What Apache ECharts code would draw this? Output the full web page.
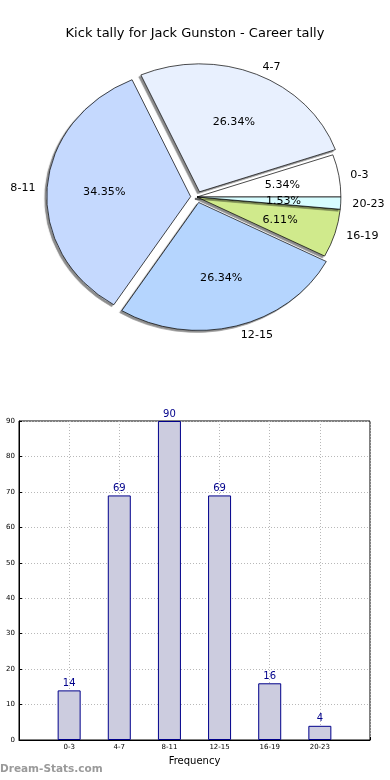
<!DOCTYPE html>
<html><head><meta charset="utf-8">
<script src="https://cdn.jsdelivr.net/npm/echarts@6/dist/echarts.min.js"></script>
<style>
html,body{margin:0;padding:0;background:#fff;overflow:hidden}
#wrap{position:relative;width:390px;height:780px}
#c{position:absolute;left:0;top:0;width:390px;height:780px}
#p{position:absolute;left:0;top:0;width:390px;height:400px;transform:scale(1.058,0.941);transform-origin:197px 197px}
</style>
</head><body><div id="wrap"><div id="c"></div><div id="p"></div></div>
<script>
const titleText = 'Kick tally for Jack Gunston - Career tally';
const categories = ['0-3', '4-7', '8-11', '12-15', '16-19', '20-23'];
const values = [14, 69, 90, 69, 16, 4];
const sliceColors = ['#ffffff', '#e8f0fe', '#c5d9fe', '#b5d5fe', '#d0ea8c', '#d7fdff'];
const exploded = ['4-7', '8-11', '12-15'];
const yTicks = [0, 10, 20, 30, 40, 50, 60, 70, 80, 90];
const xAxisName = 'Frequency';
const watermark = 'Dream-Stats.com';

const FONT = 'DejaVu Sans';
const CX = 197, CY = 197, R = 136;
const total = values.reduce((a, b) => a + b, 0);

const pieData = categories.map((c, i) => ({
  name: c, value: values[i], selected: exploded.includes(c),
  itemStyle: { color: sliceColors[i] }
}));
const pctData = categories.map((c, i) => ({
  name: c, value: values[i], selected: exploded.includes(c)
}));
const barCats = [''].concat(categories, ['']);
const barVals = [null].concat(values, [null]);

const chart = echarts.init(document.getElementById('c'), null, {renderer: 'canvas'});
chart.setOption({
  animation: false,
  title: { text: titleText, left: 'center', top: 22, textStyle: { fontFamily: FONT, fontSize: 13, fontWeight: 'normal', color: '#000' } },
  graphic: [{ type: 'text', left: 0, top: 764, style: { text: watermark, font: 'bold 10.5px "DejaVu Sans"', fill: '#9a9a9a' } }],
  grid: { left: 19, right: 20, top: 421, bottom: 40, show: true, borderColor: '#000', borderWidth: 1 },
  xAxis: {
    type: 'category', data: barCats, boundaryGap: false,
    name: xAxisName, nameLocation: 'middle', nameGap: 16,
    nameTextStyle: { fontFamily: FONT, fontSize: 10, color: '#000' },
    axisLine: { lineStyle: { color: '#000' } },
    axisTick: { show: true, inside: true, length: 3, lineStyle: { color: '#000' } },
    axisLabel: { fontFamily: FONT, fontSize: 7, color: '#000', margin: 4, interval: 0 },
    splitLine: { show: true, lineStyle: { color: '#b8b8b8', type: [1, 2] } }
  },
  yAxis: {
    type: 'value', min: 0, max: 90, interval: 10,
    axisLine: { show: true, lineStyle: { color: '#000' } },
    axisTick: { show: true, inside: true, length: 3, lineStyle: { color: '#000' } },
    axisLabel: { fontFamily: FONT, fontSize: 7, color: '#000', margin: 4,
      formatter: v => yTicks.includes(v) ? String(v) : '' },
    splitLine: { show: true, lineStyle: { color: '#b8b8b8', type: [1, 2] } }
  },
  series: [
    {
      type: 'bar', data: barVals, barWidth: 23,
      itemStyle: { color: '#ccccdf', borderColor: '#00008b', borderWidth: 1 },
      label: { show: true, position: 'top', distance: 2, fontFamily: FONT, fontSize: 10, color: '#00008b' },
      emphasis: { disabled: true }
    }
  ]
});

const pie = echarts.init(document.getElementById('p'), null, {renderer: 'svg'});
pie.setOption({
  animation: false,
  series: [
    {
      type: 'pie', center: [CX, CY], radius: [0, R], startAngle: 0, clockwise: false,
      selectedMode: 'multiple', selectedOffset: 6, silent: true,
      data: pieData,
      itemStyle: { borderColor: '#000', borderWidth: 0.7, shadowColor: 'rgba(0,0,0,0.45)', shadowBlur: 0, shadowOffsetX: -2, shadowOffsetY: 2 },
      label: { show: true, position: 'outside', formatter: '{b}', fontFamily: FONT, fontSize: 10.5, color: '#000', distanceToLabelLine: 2, overflow: 'none' },
      labelLine: { show: false, length: 9, length2: 0 },
      emphasis: { disabled: true }
    },
    {
      type: 'pie', center: [CX, CY], radius: [0, R * 1.16], startAngle: 0, clockwise: false,
      selectedMode: 'multiple', selectedOffset: 6, silent: true,
      data: pctData,
      itemStyle: { color: 'rgba(0,0,0,0)', borderWidth: 0 },
      label: { show: true, position: 'inside', fontFamily: FONT, fontSize: 10.5, color: '#000',
        formatter: p => (p.value / total * 100).toFixed(2) + '%' },
      labelLine: { show: false },
      emphasis: { disabled: true }
    }
  ]
});
</script></body></html>
